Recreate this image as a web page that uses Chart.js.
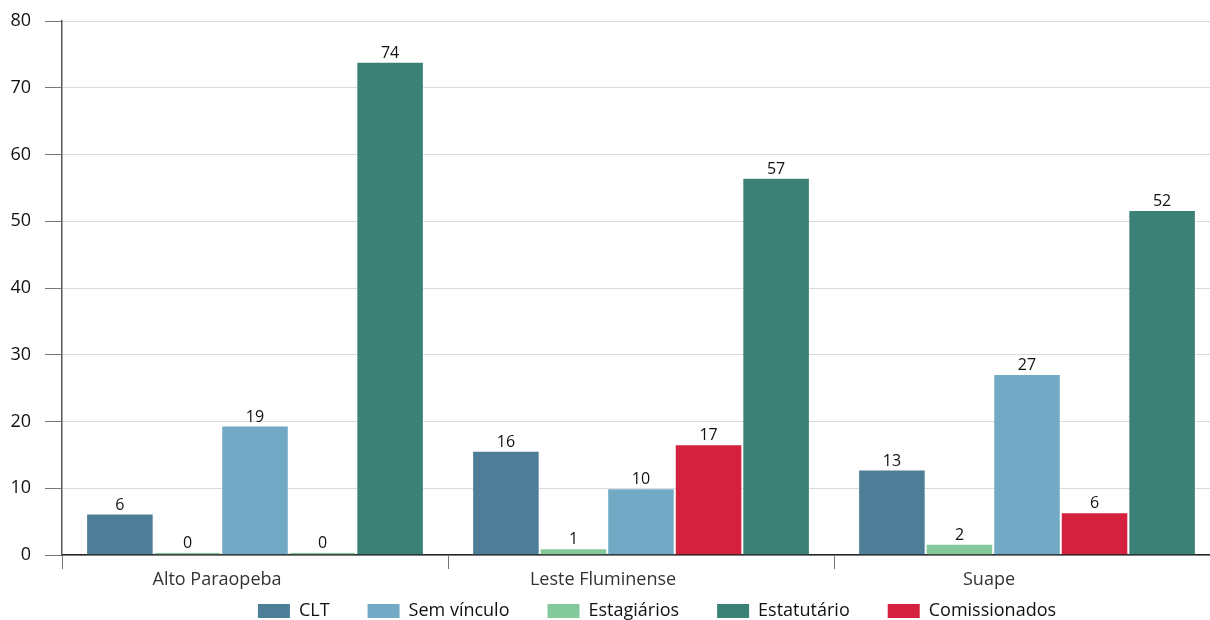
<!DOCTYPE html>
<html lang="pt-BR">
<head>
<meta charset="utf-8">
<title>Vínculos por território</title>
<script src="https://cdn.jsdelivr.net/npm/chart.js@4.4.1/dist/chart.umd.min.js"></script>
<style>
    html, body { margin: 0; padding: 0; background: #fff; overflow: hidden; }
    #wrap { position: absolute; left: 0; top: 0; width: 1222px; height: 661px; }
</style>
</head>
<body>
<div id="wrap"><canvas id="vinculos-chart"></canvas></div>
<script>
// Data
const territorios = ['Alto Paraopeba', 'Leste Fluminense', 'Suape'];

const clt = [6.2, 15.6, 12.8];
const estagiarios = [0, 1.0, 1.7];
const semVinculo = [19.4, 10.0, 27.1];
const comissionados = [0, 16.6, 6.4];
const estatutario = [73.9, 56.5, 51.7];

const yTicks = [0, 10, 20, 30, 40, 50, 60, 70, 80];

// legend shows the series in a different order than the bars
const legendOrder = ['CLT', 'Sem vínculo', 'Estagiários', 'Estatutário', 'Comissionados'];

const colors = {
    clt: '#4e7d98',
    semVinculo: '#72aac6',
    estagiarios: '#83c99b',
    estatutario: '#3c8176',
    comissionados: '#d3213e'
};
// same order as the datasets below, used for the legend boxes
const seriesColors = [colors.clt, colors.estagiarios, colors.semVinculo, colors.comissionados, colors.estatutario];
// the empty Comissionados bar in Alto Paraopeba is drawn green in the original
const comissionadosColors = [colors.estagiarios, colors.comissionados, colors.comissionados];

Chart.defaults.font.family = "'Open Sans', sans-serif";
Chart.defaults.color = '#111';

// Draws the rounded value above each bar
const valueLabels = {
    id: 'valueLabels',
    afterDatasetsDraw(chart) {
        const ctx = chart.ctx;
        ctx.save();
        ctx.font = "16px 'Open Sans', sans-serif";
        ctx.fillStyle = '#111';
        ctx.textAlign = 'center';
        ctx.textBaseline = 'alphabetic';
        chart.data.datasets.forEach((ds, i) => {
            const meta = chart.getDatasetMeta(i);
            if (meta.hidden) return;
            meta.data.forEach((bar, j) => {
                ctx.fillText(Math.round(ds.data[j]), bar.x, bar.y - 4);
            });
        });
        ctx.restore();
    }
};

// Pulls the legend up right under the category labels and a bit to the right
const legendPlacement = {
    id: 'legendPlacement',
    afterLayout(chart) {
        const legend = chart.legend;
        const h = legend.bottom - legend.top;
        legend.top = 564;
        legend.bottom = 564 + h;
        legend.left += 16;
        legend.right += 16;
    }
};

const ctxChart = document.getElementById('vinculos-chart').getContext('2d');

new Chart(ctxChart, {
    type: 'bar',
    data: {
        labels: territorios,
        datasets: [
            { label: 'CLT', data: clt, backgroundColor: colors.clt },
            { label: 'Estagiários', data: estagiarios, backgroundColor: colors.estagiarios },
            { label: 'Sem vínculo', data: semVinculo, backgroundColor: colors.semVinculo },
            {
                label: 'Comissionados',
                data: comissionados,
                backgroundColor: (c) => c.type === 'data' ? comissionadosColors[c.dataIndex] : colors.comissionados
            },
            { label: 'Estatutário', data: estatutario, backgroundColor: colors.estatutario }
        ]
    },
    options: {
        responsive: true,
        maintainAspectRatio: false,
        animation: false,
        layout: {
            padding: { top: 21, left: 0, right: 2, bottom: 0 }
        },
        datasets: {
            bar: {
                categoryPercentage: 0.875,
                barPercentage: 1,
                minBarLength: 3,
                borderWidth: 1,
                borderColor: 'rgba(255,255,255,0.25)'
            }
        },
        scales: {
            x: {
                grid: {
                    offset: true,
                    drawOnChartArea: false,
                    drawTicks: true,
                    tickLength: 14,
                    tickColor: '#777'
                },
                border: { color: '#222', width: 1.5 },
                ticks: {
                    padding: 0,
                    labelOffset: -38,
                    color: '#333',
                    font: { size: 18 }
                },
                afterFit: (scale) => { scale.height = 40; }
            },
            y: {
                min: 0,
                max: 80,
                afterBuildTicks: (scale) => { scale.ticks = yTicks.map(v => ({ value: v })); },
                grid: {
                    color: '#d9d9d9',
                    lineWidth: 1,
                    tickLength: 17,
                    tickColor: '#777'
                },
                border: { color: '#555', width: 1.5 },
                ticks: {
                    padding: 14,
                    color: '#111',
                    font: { size: 18 }
                },
                afterFit: (scale) => {
                    scale.width = 62;
                    scale.paddingTop = 0;
                    scale.paddingBottom = 0;
                }
            }
        },
        plugins: {
            legend: {
                position: 'bottom',
                fullSize: false,
                labels: {
                    boxWidth: 32,
                    boxHeight: 14,
                    padding: 38,
                    color: '#111',
                    font: { size: 18 },
                    sort: (a, b) => legendOrder.indexOf(a.text) - legendOrder.indexOf(b.text),
                    generateLabels: (chart) => Chart.defaults.plugins.legend.labels.generateLabels(chart).map(item => {
                        item.fillStyle = seriesColors[item.datasetIndex];
                        item.lineWidth = 0;
                        return item;
                    })
                }
            },
            tooltip: {
                callbacks: {
                    label: (context) => `${context.dataset.label}: ${Math.round(context.raw)}`
                }
            }
        }
    },
    plugins: [valueLabels, legendPlacement]
});
</script>
</body>
</html>
